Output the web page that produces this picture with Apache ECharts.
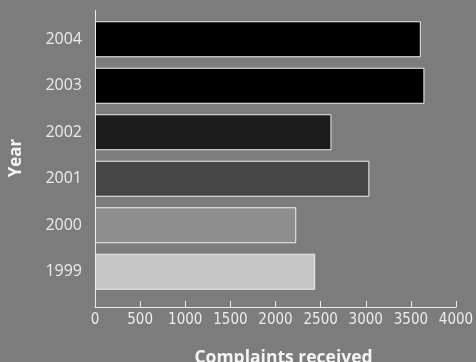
<!DOCTYPE html>
<html>
<head>
<meta charset="utf-8">
<script src="https://cdn.jsdelivr.net/npm/echarts@6/dist/echarts.min.js"></script>
<style>
  html, body { margin: 0; padding: 0; background: #7c7c7c; }
  #chart { width: 476px; height: 362px; }
</style>
</head>
<body>
<div id="chart"></div>
<script>
// Complaints received per year
const years = ['2004', '2003', '2002', '2001', '2000', '1999'];
const complaints = [3610, 3650, 2620, 3040, 2230, 2440];
const xTicks = [0, 500, 1000, 1500, 2000, 2500, 3000, 3500, 4000];

// grey shade for each year's bar, top to bottom
const shades = ['#000000', '#000000', '#1c1c1c', '#464646', '#8e8e8e', '#c6c6c6'];

const ink = '#ececec';
const font = '"Open Sans", "Noto Sans", sans-serif';
const narrow = '"Liberation Sans Narrow", "DejaVu Sans Condensed", "Open Sans", sans-serif';

const chart = echarts.init(document.getElementById('chart'), null, { renderer: 'canvas' });

chart.setOption({
  backgroundColor: '#7c7c7c',
  animation: false,
  grid: {
    left: 95, right: 20, top: 16, height: 279,
    containLabel: false, outerBoundsMode: 'none'
  },
  xAxis: {
    type: 'value',
    min: xTicks[0],
    max: xTicks[xTicks.length - 1],
    interval: xTicks[1] - xTicks[0],
    offset: 12,
    axisLine: { show: true, lineStyle: { color: ink, width: 1 } },
    axisTick: { show: true, inside: true, length: 6, lineStyle: { color: ink } },
    splitLine: { show: false },
    axisLabel: {
      color: ink, fontSize: 15, fontFamily: narrow, margin: 6,
      showMinLabel: true, showMaxLabel: true,
      formatter: v => String(v)
    },
    name: 'Complaints received',
    nameLocation: 'middle',
    nameGap: 42,
    nameTextStyle: {
      color: '#f4f4f4', fontSize: 17.5, fontWeight: 'bold', fontFamily: font,
      padding: [0, 0, 0, 16]
    }
  },
  yAxis: {
    type: 'category',
    data: years,
    inverse: true,
    axisLine: { show: false },
    axisTick: { show: false },
    axisLabel: { color: ink, fontSize: 16, fontFamily: font, margin: 13 },
    name: 'Year',
    nameLocation: 'middle',
    nameGap: 70,
    nameTextStyle: {
      color: '#f4f4f4', fontSize: 17, fontWeight: 'bold', fontFamily: font,
      padding: [0, 5, 0, 0]
    }
  },
  series: [{
    type: 'bar',
    barWidth: 36,
    data: complaints.map((v, i) => ({
      value: v,
      itemStyle: { color: shades[i], borderColor: '#f0f0f0', borderWidth: 1 }
    }))
  }]
});

// vertical axis line spanning the full plot, from above the first bar down to the value axis
const originPx = chart.convertToPixel({ gridIndex: 0 }, [0, 0]);
const axisX = Math.round(originPx[0]) + 0.5;
chart.setOption({
  graphic: [{
    type: 'line',
    shape: { x1: axisX, y1: 10, x2: axisX, y2: 307 },
    style: { stroke: ink, lineWidth: 1 },
    silent: true
  }]
});
</script>
</body>
</html>
